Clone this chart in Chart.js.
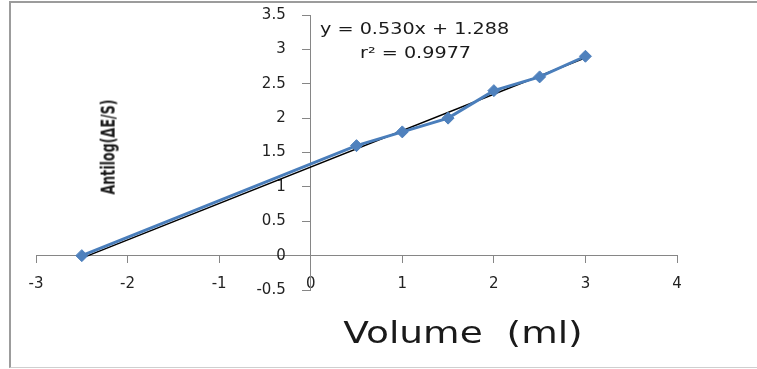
<!DOCTYPE html>
<html>
<head>
<meta charset="utf-8">
<script src="https://cdn.jsdelivr.net/npm/chart.js@4/dist/chart.umd.min.js"></script>
<style>
  html, body { margin: 0; padding: 0; background: #fff; overflow: hidden; }
  #wrap { position: relative; width: 757px; height: 369px; overflow: hidden; }
  #frame {
    position: absolute; left: 9px; top: 1px; width: 800px; height: 364px;
    border-top: 2px solid #9c9c9c; border-left: 2px solid #9c9c9c; border-bottom: 1px solid #cfcfcf;
  }
  canvas { position: absolute; left: 0; top: 0; }
  .txt { position: absolute; white-space: nowrap; color: #1a1a1a; font-family: "DejaVu Sans", Verdana, sans-serif; }
  #eq1 { left: 320px; top: 28px; font-size: 16px; transform: translateY(-50%) scaleX(1.2); transform-origin: left center; }
  #eq2 { left: 360px; top: 52px; font-size: 16px; transform: translateY(-50%) scaleX(1.2); transform-origin: left center; }
  #xtitle { left: 463px; top: 332px; font-size: 30px; transform: translate(-50%, -50%) scaleX(1.25); }
  #ytitle {
    left: 108px; top: 147px; font-size: 16px; font-weight: bold;
    font-family: "Liberation Sans Narrow", "DejaVu Sans Condensed", sans-serif;
    transform: translate(-50%, -50%) rotate(-90deg) scale(0.88, 1.2);
  }
</style>
</head>
<body>
<div id="wrap">
  <div id="frame"></div>
  <canvas id="chart" width="757" height="369"></canvas>
  <div class="txt" id="eq1">y = 0.530x + 1.288</div>
  <div class="txt" id="eq2">r² = 0.9977</div>
  <div class="txt" id="xtitle">Volume&nbsp;&nbsp;(ml)</div>
  <div class="txt" id="ytitle">Antilog(ΔE/S)</div>
</div>
<script>
// Measured points: added volume (ml) vs antilog(ΔE/S)
const VOLUME  = [-2.5, 0.5, 1.0, 1.5, 2.0, 2.5, 3.0];
const ANTILOG = [0.0, 1.6, 1.8, 2.0, 2.4, 2.6, 2.9];

// Least-squares fit shown in the equation label
const SLOPE = 0.530;
const INTERCEPT = 1.288;
const FIT_RANGE = [-2.5, 3.0];

// Axis tick labels
const X_TICKS = ['-3', '-2', '-1', '0', '1', '2', '3', '4'];
const Y_TICKS = ['-0.5', '0', '0.5', '1', '1.5', '2', '2.5', '3', '3.5'];

const AXIS_GREY = '#868686';
const TICK_FONT = { family: 'DejaVu Sans', size: 15 };

// Y labels sit to the left of the crossing axis, clear of the tick marks
const yLabelOffset = {
  id: 'yLabelOffset',
  beforeDraw(chart) {
    const ys = chart.scales.y;
    const axisX = chart.scales.x.getPixelForValue(0);
    ys.getLabelItems().forEach(it => { it.options.translation[0] = axisX - 25; });
  }
};

const series = VOLUME.map((x, i) => ({ x, y: ANTILOG[i] }));
const fit = FIT_RANGE.map(x => ({ x, y: SLOPE * x + INTERCEPT }));

new Chart(document.getElementById('chart'), {
  type: 'scatter',
  data: {
    datasets: [
      {
        data: series,
        showLine: true,
        borderColor: '#4a7ebb',
        borderWidth: 3,
        pointStyle: 'rectRot',
        pointRadius: 6,
        pointBackgroundColor: '#4f81bd',
        pointBorderColor: '#4f81bd',
        pointBorderWidth: 1
      },
      {
        data: fit,
        showLine: true,
        borderColor: '#000000',
        borderWidth: 1.5,
        pointRadius: 0
      }
    ]
  },
  options: {
    responsive: false,
    animation: false,
    devicePixelRatio: 1,
    layout: { padding: { left: 36, right: 80, top: 15, bottom: 79 } },
    plugins: { legend: { display: false }, tooltip: { enabled: false } },
    scales: {
      x: {
        type: 'linear',
        position: { y: 0 },
        min: -3, max: 4,
        afterFit: s => { s.height = 0; },
        border: { display: true, color: AXIS_GREY, width: 1 },
        grid: { drawOnChartArea: false, drawTicks: true, tickLength: 7, color: AXIS_GREY },
        ticks: {
          stepSize: 1, padding: 12, color: '#222', font: TICK_FONT, maxRotation: 0,
          callback: v => X_TICKS[Math.round(v + 3)]
        }
      },
      y: {
        type: 'linear',
        position: { x: 0 },
        min: -0.5, max: 3.5,
        afterFit: s => { s.width = 0; },
        border: { display: true, color: AXIS_GREY, width: 1 },
        grid: { drawOnChartArea: false, drawTicks: true, tickLength: 8, color: AXIS_GREY },
        ticks: {
          stepSize: 0.5, color: '#222', font: TICK_FONT,
          callback: v => Y_TICKS[Math.round((v + 0.5) * 2)]
        }
      }
    }
  },
  plugins: [yLabelOffset]
});
</script>
</body>
</html>
